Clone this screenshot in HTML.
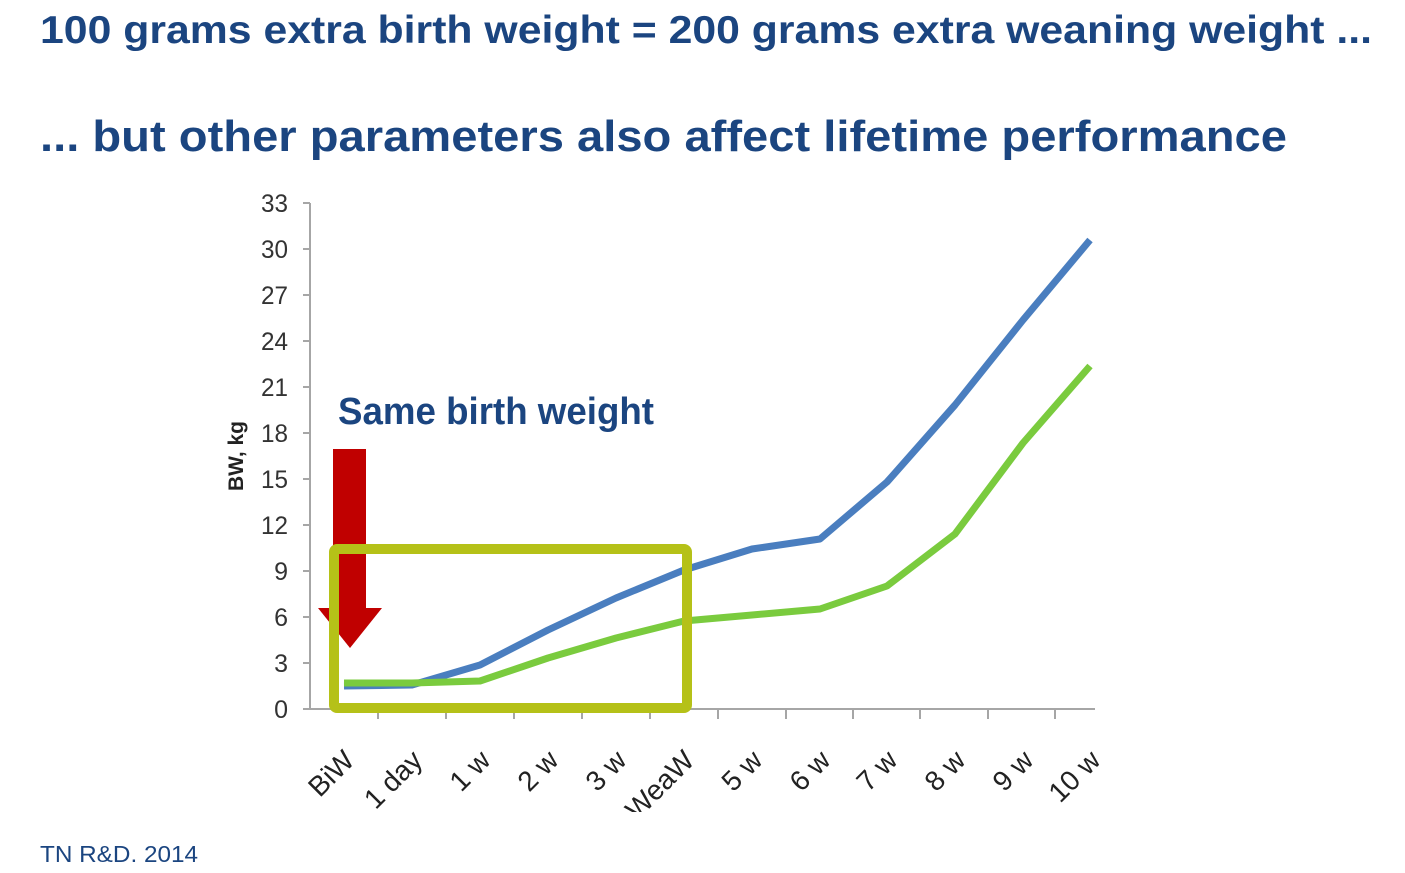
<!DOCTYPE html>
<html><head><meta charset="utf-8"><style>
html,body{margin:0;padding:0;background:#fff;}
svg{display:block;}
</style></head><body>
<svg width="1405" height="873" viewBox="0 0 1405 873" xmlns="http://www.w3.org/2000/svg">
<defs><clipPath id="c"><rect x="0" y="712" width="1405" height="100"/></clipPath></defs>
<g font-family="Liberation Sans, sans-serif" font-weight="bold" fill="#1b4580">
<text x="40" y="43" font-size="39" textLength="1332" lengthAdjust="spacingAndGlyphs">100 grams extra birth weight = 200 grams extra weaning weight ...</text>
<text x="40" y="151" font-size="44" textLength="1247" lengthAdjust="spacingAndGlyphs">... but other parameters also affect lifetime performance</text>
</g>
<text x="40" y="862" font-family="Liberation Sans, sans-serif" font-size="23" fill="#1b4580" textLength="158" lengthAdjust="spacingAndGlyphs">TN R&amp;D. 2014</text>
<g stroke="#a6a6a6" stroke-width="2" fill="none">
<line x1="310" y1="203" x2="310" y2="709"/>
<line x1="310" y1="709" x2="1095" y2="709"/>
<path d="M303 203h7M303 249h7M303 295h7M303 341h7M303 387h7M303 433h7M303 479h7M303 525h7M303 571h7M303 617h7M303 663h7M303 709h7"/>
<path d="M378 709v10M446 709v10M514 709v10M582 709v10M650 709v10M718 709v10M786 709v10M853 709v10M920 709v10M988 709v10M1055 709v10"/>
</g>
<g font-family="Liberation Sans, sans-serif" font-size="25" fill="#333" text-anchor="end">
<text x="288" y="212" textLength="27" lengthAdjust="spacingAndGlyphs">33</text><text x="288" y="258" textLength="27" lengthAdjust="spacingAndGlyphs">30</text><text x="288" y="304" textLength="27" lengthAdjust="spacingAndGlyphs">27</text><text x="288" y="350" textLength="27" lengthAdjust="spacingAndGlyphs">24</text><text x="288" y="396" textLength="27" lengthAdjust="spacingAndGlyphs">21</text><text x="288" y="442" textLength="27" lengthAdjust="spacingAndGlyphs">18</text><text x="288" y="488" textLength="27" lengthAdjust="spacingAndGlyphs">15</text><text x="288" y="534" textLength="27" lengthAdjust="spacingAndGlyphs">12</text><text x="288" y="580">9</text><text x="288" y="626">6</text><text x="288" y="672">3</text><text x="288" y="718">0</text>
</g>
<text transform="translate(243,456) rotate(-90)" text-anchor="middle" font-family="Liberation Sans, sans-serif" font-weight="bold" font-size="21" fill="#222">BW, kg</text>
<g clip-path="url(#c)" font-family="Liberation Sans, sans-serif" font-size="28" fill="#222" text-anchor="end">
<text transform="translate(356,762) rotate(-45)">BiW</text>
<text transform="translate(424,762) rotate(-45)">1 day</text>
<text transform="translate(492,762) rotate(-45)">1 w</text>
<text transform="translate(560,762) rotate(-45)">2 w</text>
<text transform="translate(628,762) rotate(-45)">3 w</text>
<text transform="translate(696,762) rotate(-45)">WeaW</text>
<text transform="translate(764,762) rotate(-45)">5 w</text>
<text transform="translate(832,762) rotate(-45)">6 w</text>
<text transform="translate(899,762) rotate(-45)">7 w</text>
<text transform="translate(967,762) rotate(-45)">8 w</text>
<text transform="translate(1035,762) rotate(-45)">9 w</text>
<text transform="translate(1102,762) rotate(-45)">10 w</text>
</g>
<text x="338" y="424" font-family="Liberation Sans, sans-serif" font-weight="bold" font-size="38" fill="#1b4580" textLength="316" lengthAdjust="spacingAndGlyphs">Same birth weight</text>
<polyline fill="none" stroke="#4a7ebf" stroke-width="7" stroke-linejoin="round" points="344,686 412,685 480,665 548,630 616,598 684,570 752,549 820,539 887,482 955,405 1023,320 1090,240"/>
<polyline fill="none" stroke="#7acb3e" stroke-width="7" stroke-linejoin="round" points="344,683 412,683 480,681 548,658 616,638 684,621 752,615 820,609 887,586 955,534 1023,443 1090,366"/>
<rect x="333" y="449" width="33" height="160" fill="#c00000"/>
<polygon points="318,608 382,608 350,648" fill="#c00000"/>
<rect x="334" y="549" width="353" height="159" rx="3" fill="none" stroke="#b5c118" stroke-width="10"/>
</svg>
</body></html>
